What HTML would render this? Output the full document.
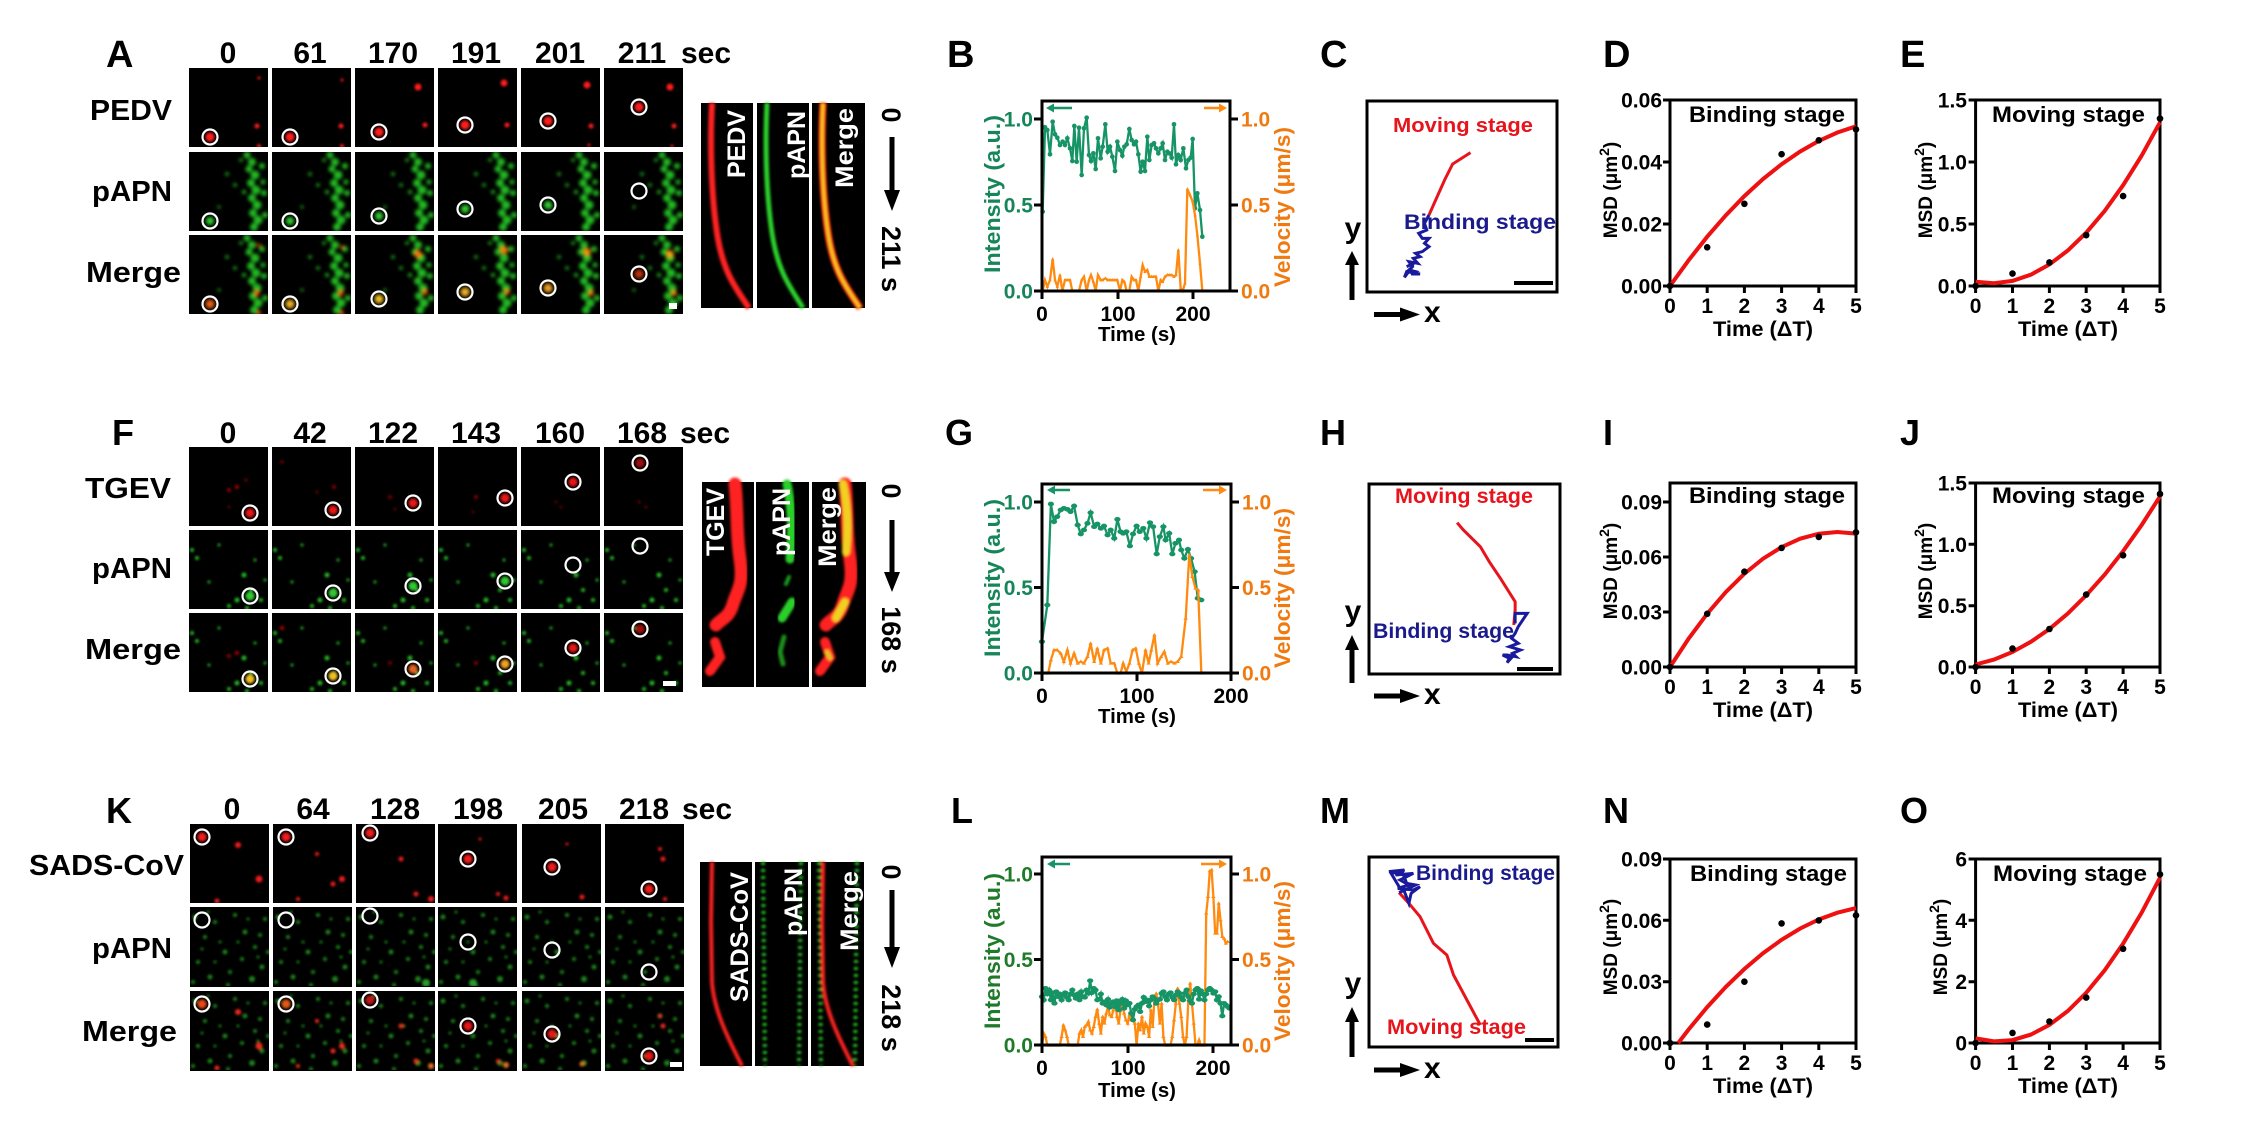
<!DOCTYPE html>
<html><head><meta charset="utf-8"><style>
html,body{margin:0;padding:0;background:#fff}
svg{display:block}
text{font-family:"Liberation Sans",Arial,sans-serif;font-weight:bold}
.rg{fill:none;stroke:#fff;stroke-width:2.2}
.fr{fill:none;stroke:#000;stroke-width:3}
.tk{stroke:#000;stroke-width:3}
.cv{fill:none;stroke:#ee1111;stroke-width:4}
.nl{fill:none;vector-effect:non-scaling-stroke}
</style></head><body>
<svg width="2249" height="1147" viewBox="0 0 2249 1147" xmlns="http://www.w3.org/2000/svg">
<defs>
<clipPath id="tc"><rect width="79" height="79"/></clipPath>
<filter id="bl" x="-20%" y="-20%" width="140%" height="140%"><feGaussianBlur stdDeviation="1.2"/></filter>
<filter id="bl2" x="-20%" y="-20%" width="140%" height="140%"><feGaussianBlur stdDeviation="1.9"/></filter>
<g id="m1" fill="#22b822"><circle cx="58" cy="3" r="3.5"/><circle cx="63" cy="10" r="4"/><circle cx="60" cy="17" r="3.5"/><circle cx="66" cy="23" r="4.5"/><circle cx="62" cy="31" r="4"/><circle cx="67" cy="38" r="4.5"/><circle cx="63" cy="46" r="4"/><circle cx="68" cy="53" r="4.5"/><circle cx="64" cy="61" r="4"/><circle cx="69" cy="68" r="4.5"/><circle cx="65" cy="75" r="4"/><circle cx="73" cy="14" r="3"/><circle cx="74" cy="30" r="2.5"/><circle cx="75" cy="41" r="3"/><circle cx="76" cy="63" r="3"/><circle cx="55" cy="40" r="2"/><circle cx="52" cy="8" r="1.8"/><circle cx="38" cy="22" r="1.8"/><circle cx="46" cy="33" r="1.8"/><circle cx="30" cy="55" r="1.5"/></g>
<g id="g2" fill="#26b526"><circle cx="3" cy="20" r="2"/><circle cx="8" cy="28" r="2"/><circle cx="30" cy="15" r="1.5"/><circle cx="55" cy="45" r="2.5"/><circle cx="62" cy="60" r="2"/><circle cx="48" cy="70" r="2.5"/><circle cx="40" cy="76" r="2"/><circle cx="72" cy="70" r="2"/><circle cx="20" cy="52" r="1.5"/><circle cx="66" cy="30" r="1.5"/><circle cx="76" cy="50" r="1.5"/><circle cx="58" cy="78" r="2"/></g>
<g id="g3" fill="#1f801f"><circle cx="5" cy="10" r="2.5"/><circle cx="15" cy="30" r="2"/><circle cx="25" cy="15" r="2"/><circle cx="35" cy="45" r="2.5"/><circle cx="45" cy="8" r="2"/><circle cx="55" cy="25" r="2.5"/><circle cx="65" cy="40" r="2"/><circle cx="75" cy="12" r="2"/><circle cx="8" cy="55" r="2"/><circle cx="20" cy="70" r="2.5"/><circle cx="40" cy="65" r="2"/><circle cx="52" cy="52" r="2"/><circle cx="62" cy="72" r="3"/><circle cx="72" cy="60" r="2.5"/><circle cx="30" cy="35" r="1.5"/><circle cx="12" cy="42" r="1.5"/><circle cx="48" cy="35" r="1.5"/><circle cx="70" cy="28" r="2"/><circle cx="58" cy="12" r="1.5"/><circle cx="25" cy="55" r="1.5"/><circle cx="38" cy="78" r="2"/><circle cx="78" cy="45" r="2"/><circle cx="3" cy="75" r="2"/><circle cx="18" cy="5" r="1.5"/><circle cx="68" cy="50" r="1.5"/></g>
<marker id="mg" markerUnits="userSpaceOnUse" markerWidth="20" markerHeight="20" refX="10" refY="10" viewBox="0 0 20 20"><circle cx="10" cy="10" r="7" fill="#179466"/></marker>
<marker id="mo" markerUnits="userSpaceOnUse" markerWidth="20" markerHeight="20" refX="10" refY="10" viewBox="0 0 20 20"><polygon points="10,4 15,14 5,14" fill="#ff8a10"/></marker>
</defs>
<rect width="2249" height="1147" fill="#fff"/>

<!-- ================= ROW 1 ================= -->
<text x="106" y="67" font-size="38">A</text>
<text x="947" y="67" font-size="38">B</text>
<text x="1320" y="67" font-size="38">C</text>
<text x="1603" y="67" font-size="38">D</text>
<text x="1900" y="67" font-size="38">E</text>

<g font-size="30" text-anchor="middle">
<text x="228" y="63">0</text><text x="310" y="63">61</text><text x="393" y="63">170</text><text x="476" y="63">191</text><text x="560" y="63">201</text><text x="642" y="63">211</text><text x="706" y="63">sec</text>
</g>
<g font-size="29">
<text x="90" y="120" textLength="82" lengthAdjust="spacingAndGlyphs">PEDV</text>
<text x="92" y="201" textLength="80" lengthAdjust="spacingAndGlyphs">pAPN</text>
<text x="86" y="282" textLength="95" lengthAdjust="spacingAndGlyphs">Merge</text>
</g>

<!-- PEDV tiles -->
<g transform="translate(189,68)"><rect width="79" height="79"/><g clip-path="url(#tc)"><g filter="url(#bl)" fill="#ff1e1e"><circle cx="21" cy="69" r="4.5"/><circle cx="70" cy="10" r="1.5"/><circle cx="68" cy="58" r="2.5"/><circle cx="70" cy="78" r="2"/></g></g><circle class="rg" cx="21" cy="69" r="7.5"/></g>
<g transform="translate(272,68)"><rect width="79" height="79"/><g clip-path="url(#tc)"><g filter="url(#bl)" fill="#ff1e1e"><circle cx="18" cy="69" r="4.5"/><circle cx="70" cy="12" r="1.5"/><circle cx="69" cy="58" r="2.5"/><circle cx="70" cy="78" r="2"/></g></g><circle class="rg" cx="18" cy="69" r="7.5"/></g>
<g transform="translate(355,68)"><rect width="79" height="79"/><g clip-path="url(#tc)"><g filter="url(#bl)" fill="#ff1e1e"><circle cx="24" cy="64" r="4.5"/><circle cx="63" cy="19" r="3.5"/><circle cx="70" cy="57" r="2.5"/></g></g><circle class="rg" cx="24" cy="64" r="7.5"/></g>
<g transform="translate(438,68)"><rect width="79" height="79"/><g clip-path="url(#tc)"><g filter="url(#bl)" fill="#ff1e1e"><circle cx="27" cy="57" r="4.5"/><circle cx="66" cy="15" r="3.5"/><circle cx="69" cy="57" r="2.5"/></g></g><circle class="rg" cx="27" cy="57" r="7.5"/></g>
<g transform="translate(521,68)"><rect width="79" height="79"/><g clip-path="url(#tc)"><g filter="url(#bl)" fill="#ff1e1e"><circle cx="27" cy="53" r="4.5"/><circle cx="66" cy="17" r="3.5"/><circle cx="70" cy="58" r="2.5"/><circle cx="68" cy="77" r="1.5"/></g></g><circle class="rg" cx="27" cy="53" r="7.5"/></g>
<g transform="translate(604,68)"><rect width="79" height="79"/><g clip-path="url(#tc)"><g filter="url(#bl)" fill="#ff1e1e"><circle cx="35" cy="39" r="4.5"/><circle cx="66" cy="19" r="3.5"/><circle cx="70" cy="58" r="2.5"/><circle cx="68" cy="78" r="1.5"/></g></g><circle class="rg" cx="35" cy="39" r="7.5"/></g>
<!-- pAPN tiles row1 -->
<g transform="translate(189,152)"><rect width="79" height="79"/><g clip-path="url(#tc)"><g filter="url(#bl2)"><use href="#m1"/><circle cx="21" cy="69" r="4" fill="#30d030"/></g></g><circle class="rg" cx="21" cy="69" r="7.5"/></g>
<g transform="translate(272,152)"><rect width="79" height="79"/><g clip-path="url(#tc)"><g filter="url(#bl2)"><use href="#m1"/><circle cx="18" cy="69" r="4" fill="#30d030"/></g></g><circle class="rg" cx="18" cy="69" r="7.5"/></g>
<g transform="translate(355,152)"><rect width="79" height="79"/><g clip-path="url(#tc)"><g filter="url(#bl2)"><use href="#m1"/><circle cx="24" cy="64" r="4" fill="#30d030"/></g></g><circle class="rg" cx="24" cy="64" r="7.5"/></g>
<g transform="translate(438,152)"><rect width="79" height="79"/><g clip-path="url(#tc)"><g filter="url(#bl2)"><use href="#m1"/><circle cx="27" cy="57" r="4" fill="#30d030"/></g></g><circle class="rg" cx="27" cy="57" r="7.5"/></g>
<g transform="translate(521,152)"><rect width="79" height="79"/><g clip-path="url(#tc)"><g filter="url(#bl2)"><use href="#m1"/><circle cx="27" cy="53" r="4" fill="#30d030"/></g></g><circle class="rg" cx="27" cy="53" r="7.5"/></g>
<g transform="translate(604,152)"><rect width="79" height="79"/><g clip-path="url(#tc)"><g filter="url(#bl2)"><use href="#m1"/></g></g><circle class="rg" cx="35" cy="39" r="7.5"/></g>
<!-- Merge tiles row1 -->
<g transform="translate(189,235)"><rect width="79" height="79"/><g clip-path="url(#tc)"><g filter="url(#bl2)"><use href="#m1"/><g fill="#ff5010"><circle cx="70" cy="10" r="1.5"/><circle cx="68" cy="58" r="2.5"/><circle cx="70" cy="78" r="2"/></g><circle cx="21" cy="69" r="4.5" fill="#e86018"/></g></g><circle class="rg" cx="21" cy="69" r="7.5"/></g>
<g transform="translate(272,235)"><rect width="79" height="79"/><g clip-path="url(#tc)"><g filter="url(#bl2)"><use href="#m1"/><g fill="#ff5010"><circle cx="70" cy="12" r="1.5"/><circle cx="69" cy="58" r="2.5"/><circle cx="70" cy="78" r="2"/></g><circle cx="18" cy="69" r="4.5" fill="#f0b020"/></g></g><circle class="rg" cx="18" cy="69" r="7.5"/></g>
<g transform="translate(355,235)"><rect width="79" height="79"/><g clip-path="url(#tc)"><g filter="url(#bl2)"><use href="#m1"/><g fill="#ff7010"><circle cx="63" cy="19" r="3.5"/><circle cx="70" cy="57" r="2.5"/></g><circle cx="24" cy="64" r="4.5" fill="#f0c020"/></g></g><circle class="rg" cx="24" cy="64" r="7.5"/></g>
<g transform="translate(438,235)"><rect width="79" height="79"/><g clip-path="url(#tc)"><g filter="url(#bl2)"><use href="#m1"/><g fill="#ff8010"><circle cx="66" cy="15" r="3.5"/><circle cx="69" cy="57" r="2.5"/></g><circle cx="27" cy="57" r="4.5" fill="#f0b020"/></g></g><circle class="rg" cx="27" cy="57" r="7.5"/></g>
<g transform="translate(521,235)"><rect width="79" height="79"/><g clip-path="url(#tc)"><g filter="url(#bl2)"><use href="#m1"/><g fill="#ff9010"><circle cx="66" cy="17" r="3.5"/><circle cx="70" cy="58" r="2.5"/></g><circle cx="27" cy="53" r="4.5" fill="#f0a020"/></g></g><circle class="rg" cx="27" cy="53" r="7.5"/></g>
<g transform="translate(604,235)"><rect width="79" height="79"/><g clip-path="url(#tc)"><g filter="url(#bl2)"><use href="#m1"/><g fill="#ffa010"><circle cx="66" cy="19" r="3.5"/><circle cx="70" cy="58" r="2.5"/></g><circle cx="35" cy="39" r="4.5" fill="#c03010"/></g></g><circle class="rg" cx="35" cy="39" r="7.5"/><rect x="65" y="68" width="8" height="6" fill="#fff"/></g>

<!-- kymographs row1 -->
<g transform="translate(701,103)"><rect width="52" height="205"/><path d="M11,0C9,40 10,90 16,130S35,185 48,205" fill="none" stroke="#ff2020" stroke-width="6" filter="url(#bl)"/></g>
<g transform="translate(757,103)"><rect width="52" height="205"/><path d="M10,0C8,40 9,90 15,130S34,185 46,205" fill="none" stroke="#2cd02c" stroke-width="5" filter="url(#bl)"/></g>
<g transform="translate(812,103)"><rect width="53" height="205"/><path d="M11,0C9,40 10,90 16,130S35,185 48,205" fill="none" stroke="#ff3010" stroke-width="7" filter="url(#bl)"/><path d="M11,0C9,40 10,90 16,130S35,185 48,205" fill="none" stroke="#f2c820" stroke-width="4" filter="url(#bl)"/></g>
<g font-size="25" fill="#fff" text-anchor="middle">
<text transform="translate(745,144) rotate(-90)">PEDV</text>
<text transform="translate(805,145) rotate(-90)">pAPN</text>
<text transform="translate(853,148) rotate(-90)" textLength="80" lengthAdjust="spacingAndGlyphs">Merge</text>
</g>
<g font-size="27" text-anchor="middle">
<text transform="translate(882,115) rotate(90)">0</text>
<text transform="translate(882,259) rotate(90)">211 s</text>
</g>
<rect x="889.5" y="137" width="5" height="56"/><polygon points="884,190 900,190 892,211"/>

<!-- B plot -->
<path class="nl" d="M38,350L45,97L52,105L60,178L68,80L75,118L82,128L90,150L98,140L105,150L112,130L120,160L127,198L133,93L140,200L147,98L155,240L162,100L170,68L177,180L183,198L190,175L197,222L204,130L212,190L218,155L226,88L233,170L240,155L247,185L255,228L262,140L270,165L277,182L283,155L290,148L298,102L305,135L312,148L318,140L325,178L332,230L338,200L345,228L352,125L358,195L365,150L372,145L378,160L385,175L392,160L398,145L405,195L412,170L418,175L425,188L432,88L438,208L445,180L452,195L460,160L468,220L475,195L482,188L488,132L495,340L502,295L510,345L517,425" transform="translate(1030,95) scale(0.33333)" stroke="#179466" stroke-width="2.3" marker-start="url(#mg)" marker-mid="url(#mg)" marker-end="url(#mg)"/>
<path class="nl" d="M38,588L45,555L52,575L60,555L68,492L75,555L82,575L90,540L97,588L105,555L112,555L120,555L127,588L133,588L140,588L147,588L155,555L162,545L170,588L177,555L183,540L190,560L197,588L204,540L212,555L218,555L226,550L233,555L240,555L247,555L255,555L262,555L270,588L277,555L283,560L290,588L298,588L305,545L312,555L318,555L325,588L332,545L338,510L345,530L352,525L358,545L365,545L372,545L378,545L385,588L392,555L398,560L405,545L412,540L418,540L425,540L432,545L438,540L445,465L452,580L458,588L465,565L472,282L480,300L488,320L495,360L502,420L510,505L517,588" transform="translate(1030,95) scale(0.33333)" stroke="#ff8a10" stroke-width="2.3" marker-start="url(#mo)" marker-mid="url(#mo)" marker-end="url(#mo)"/>
<rect class="fr" x="1042" y="101" width="188" height="190"/>
<path class="tk" d="M1034,291H1042M1034,205H1042M1034,119H1042M1230,291H1238M1230,205H1238M1230,119H1238M1042,291V299M1118,291V299M1193,291V299"/>
<g font-size="21" fill="#16855a" text-anchor="end"><text x="1033" y="298.5">0.0</text><text x="1033" y="212.5">0.5</text><text x="1033" y="126.5">1.0</text></g>
<g font-size="21" fill="#f07a10"><text x="1241" y="298.5">0.0</text><text x="1241" y="212.5">0.5</text><text x="1241" y="126.5">1.0</text></g>
<g font-size="21" text-anchor="middle"><text x="1042" y="321">0</text><text x="1118" y="321">100</text><text x="1193" y="321">200</text></g>
<text x="1137" y="341" font-size="20" text-anchor="middle" textLength="78" lengthAdjust="spacingAndGlyphs">Time (s)</text>
<text transform="translate(1000,194) rotate(-90)" font-size="22" fill="#16855a" text-anchor="middle" textLength="158" lengthAdjust="spacingAndGlyphs">Intensity (a.u.)</text>
<text transform="translate(1290,207) rotate(-90)" font-size="22" fill="#f07a10" text-anchor="middle" textLength="160" lengthAdjust="spacingAndGlyphs">Velocity (μm/s)</text>
<path d="M1051,108H1072" stroke="#179466" stroke-width="2.5"/><polygon points="1046,108 1054,103.5 1054,112.5" fill="#179466"/>
<path d="M1204,108H1221" stroke="#ff8a10" stroke-width="2.5"/><polygon points="1227,108 1219,103.5 1219,112.5" fill="#ff8a10"/>

<!-- C plot -->
<rect class="fr" x="1367" y="101" width="190" height="191"/>
<text x="1463" y="132" font-size="20" fill="#e8141c" text-anchor="middle" textLength="140" lengthAdjust="spacingAndGlyphs">Moving stage</text>
<text x="1404" y="229" font-size="21" fill="#1a1a8c" textLength="152" lengthAdjust="spacingAndGlyphs">Binding stage</text>
<path class="nl" d="M1278,458L1238,492L1220,540L1200,600L1185,645" transform="translate(900,0) scale(0.4464,0.33333)" stroke="#e8141c" stroke-width="3"/>
<path class="nl" d="M1185,645L1175,670L1180,690L1162,700L1170,715L1185,715L1175,730L1185,740L1170,755L1155,760L1165,770L1150,775L1160,790L1140,785L1148,800L1140,810L1155,815L1145,822L1165,822L1135,815L1130,832L1145,805L1150,790L1135,800" transform="translate(900,0) scale(0.4464,0.33333)" stroke="#1a1a9c" stroke-width="3"/>
<path d="M1514,283H1553" stroke="#000" stroke-width="4"/>
<rect x="1349.5" y="262" width="5" height="38"/><polygon points="1345,265 1359,265 1352,251"/>
<rect x="1374" y="312" width="28" height="5"/><polygon points="1400,307.5 1400,321.5 1420,314.5"/>
<text x="1353" y="238" font-size="30" text-anchor="middle">y</text>
<text x="1424" y="322" font-size="30">x</text>

<!-- D plot -->
<rect class="fr" x="1670" y="100" width="186" height="186"/>
<path class="tk" d="M1663,100H1670M1663,162H1670M1663,224H1670M1663,286H1670M1670,286V293M1707.2,286V293M1744.4,286V293M1781.6,286V293M1818.8,286V293M1856,286V293"/>
<g font-size="21" text-anchor="end"><text x="1662" y="107.5">0.06</text><text x="1662" y="169.5">0.04</text><text x="1662" y="231.5">0.02</text><text x="1662" y="293.5">0.00</text></g>
<g font-size="21" text-anchor="middle"><text x="1670" y="313">0</text><text x="1707.2" y="313">1</text><text x="1744.4" y="313">2</text><text x="1781.6" y="313">3</text><text x="1818.8" y="313">4</text><text x="1856" y="313">5</text></g>
<text x="1763" y="336" font-size="21" text-anchor="middle" textLength="100" lengthAdjust="spacingAndGlyphs">Time (ΔT)</text>
<text transform="translate(1617,190) rotate(-90)" font-size="19" text-anchor="middle">MSD (μm<tspan font-size="14" dy="-8">2</tspan><tspan dy="8">)</tspan></text>
<text x="1689" y="122" font-size="22" textLength="156" lengthAdjust="spacingAndGlyphs">Binding stage</text>
<path class="cv" d="M1670,286L1688.6,260.3L1707.2,236.7L1725.8,215.3L1744.4,196.1L1763,179L1781.6,164.2L1800.2,151.5L1818.8,140.9L1837.4,132.5L1856,126.3"/>
<g><circle cx="1670" cy="286" r="3.3"/><circle cx="1707.2" cy="247.3" r="3.3"/><circle cx="1744.4" cy="203.8" r="3.3"/><circle cx="1781.6" cy="154.2" r="3.3"/><circle cx="1818.8" cy="140.3" r="3.3"/><circle cx="1856" cy="129.4" r="3.3"/></g>

<!-- E plot -->
<rect class="fr" x="1975.6" y="100" width="184.4" height="186"/>
<path class="tk" d="M1968.6,100H1975.6M1968.6,162H1975.6M1968.6,224H1975.6M1968.6,286H1975.6M1975.6,286V293M2012.5,286V293M2049.4,286V293M2086.2,286V293M2123.1,286V293M2160,286V293"/>
<g font-size="21" text-anchor="end"><text x="1967" y="107.5">1.5</text><text x="1967" y="169.5">1.0</text><text x="1967" y="231.5">0.5</text><text x="1967" y="293.5">0.0</text></g>
<g font-size="21" text-anchor="middle"><text x="1975.6" y="313">0</text><text x="2012.5" y="313">1</text><text x="2049.4" y="313">2</text><text x="2086.2" y="313">3</text><text x="2123.1" y="313">4</text><text x="2160" y="313">5</text></g>
<text x="2068" y="336" font-size="21" text-anchor="middle" textLength="100" lengthAdjust="spacingAndGlyphs">Time (ΔT)</text>
<text transform="translate(1932,190) rotate(-90)" font-size="19" text-anchor="middle">MSD (μm<tspan font-size="14" dy="-8">2</tspan><tspan dy="8">)</tspan></text>
<text x="1992" y="122" font-size="22" textLength="153" lengthAdjust="spacingAndGlyphs">Moving stage</text>
<path class="cv" d="M1975.6,281.7L1994,283.2L2012.5,280.9L2030.9,274.7L2049.4,264.5L2067.8,250.5L2086.2,232.7L2104.7,210.9L2123.1,185.2L2141.6,155.7L2160,122.3"/>
<g><circle cx="1975.6" cy="286" r="3.3"/><circle cx="2012.5" cy="273.6" r="3.3"/><circle cx="2049.4" cy="262.4" r="3.3"/><circle cx="2086.2" cy="235.2" r="3.3"/><circle cx="2123.1" cy="196.1" r="3.3"/><circle cx="2160" cy="118.6" r="3.3"/></g>

<!-- ================= ROW 2 ================= -->
<text x="112" y="445" font-size="36">F</text>
<text x="945" y="445" font-size="36">G</text>
<text x="1320" y="445" font-size="36">H</text>
<text x="1603" y="445" font-size="36">I</text>
<text x="1900" y="445" font-size="36">J</text>
<g font-size="30" text-anchor="middle">
<text x="228" y="443">0</text><text x="310" y="443">42</text><text x="393" y="443">122</text><text x="476" y="443">143</text><text x="560" y="443">160</text><text x="642" y="443">168</text><text x="705" y="443">sec</text>
</g>
<g font-size="29">
<text x="85" y="498" textLength="86" lengthAdjust="spacingAndGlyphs">TGEV</text>
<text x="92" y="578" textLength="80" lengthAdjust="spacingAndGlyphs">pAPN</text>
<text x="85" y="659" textLength="96" lengthAdjust="spacingAndGlyphs">Merge</text>
</g>
<!-- TGEV tiles -->
<g transform="translate(189,447)"><rect width="79" height="79"/><g clip-path="url(#tc)"><g filter="url(#bl)"><circle cx="40" cy="43" r="2" fill="#900"/><circle cx="48" cy="40" r="2" fill="#a00"/><circle cx="57" cy="33" r="1.5" fill="#800"/><circle cx="40" cy="60" r="1.5" fill="#600"/><circle cx="61" cy="66" r="4.5" fill="#e81818"/></g></g><circle class="rg" cx="61" cy="66" r="7.5"/></g>
<g transform="translate(272,447)"><rect width="79" height="79"/><g clip-path="url(#tc)"><g filter="url(#bl)"><circle cx="10" cy="15" r="1.5" fill="#900"/><circle cx="62" cy="40" r="2" fill="#800"/><circle cx="45" cy="45" r="1.5" fill="#700"/><circle cx="61" cy="63" r="4.5" fill="#e81818"/></g></g><circle class="rg" cx="61" cy="63" r="7.5"/></g>
<g transform="translate(355,447)"><rect width="79" height="79"/><g clip-path="url(#tc)"><g filter="url(#bl)"><circle cx="35" cy="50" r="2" fill="#700"/><circle cx="40" cy="62" r="1.5" fill="#600"/><circle cx="58" cy="56" r="4.5" fill="#e81818"/></g></g><circle class="rg" cx="58" cy="56" r="7.5"/></g>
<g transform="translate(438,447)"><rect width="79" height="79"/><g clip-path="url(#tc)"><g filter="url(#bl)"><circle cx="38" cy="50" r="2" fill="#800"/><circle cx="35" cy="65" r="1.5" fill="#600"/><circle cx="67" cy="51" r="4.5" fill="#e81818"/></g></g><circle class="rg" cx="67" cy="51" r="7.5"/></g>
<g transform="translate(521,447)"><rect width="79" height="79"/><g clip-path="url(#tc)"><g filter="url(#bl)"><circle cx="35" cy="55" r="1.5" fill="#600"/><circle cx="40" cy="60" r="1.5" fill="#600"/><circle cx="52" cy="35" r="4.5" fill="#e81818"/></g></g><circle class="rg" cx="52" cy="35" r="7.5"/></g>
<g transform="translate(604,447)"><rect width="79" height="79"/><g clip-path="url(#tc)"><g filter="url(#bl)"><circle cx="35" cy="55" r="1.5" fill="#700"/><circle cx="42" cy="60" r="1.5" fill="#700"/><circle cx="36" cy="16" r="4.5" fill="#a01010"/></g></g><circle class="rg" cx="36" cy="16" r="7.5"/></g>
<!-- pAPN row2 -->
<g transform="translate(189,530)"><rect width="79" height="79"/><g clip-path="url(#tc)"><g filter="url(#bl)"><use href="#g2"/><circle cx="61" cy="66" r="4.5" fill="#30c830"/></g></g><circle class="rg" cx="61" cy="66" r="7.5"/></g>
<g transform="translate(272,530)"><rect width="79" height="79"/><g clip-path="url(#tc)"><g filter="url(#bl)"><use href="#g2"/><circle cx="61" cy="63" r="4.5" fill="#30c830"/></g></g><circle class="rg" cx="61" cy="63" r="7.5"/></g>
<g transform="translate(355,530)"><rect width="79" height="79"/><g clip-path="url(#tc)"><g filter="url(#bl)"><use href="#g2"/><circle cx="58" cy="56" r="4.5" fill="#30c830"/></g></g><circle class="rg" cx="58" cy="56" r="7.5"/></g>
<g transform="translate(438,530)"><rect width="79" height="79"/><g clip-path="url(#tc)"><g filter="url(#bl)"><use href="#g2"/><circle cx="67" cy="51" r="4.5" fill="#30c830"/></g></g><circle class="rg" cx="67" cy="51" r="7.5"/></g>
<g transform="translate(521,530)"><rect width="79" height="79"/><g clip-path="url(#tc)"><g filter="url(#bl)"><use href="#g2"/></g></g><circle class="rg" cx="52" cy="35" r="7.5"/></g>
<g transform="translate(604,530)"><rect width="79" height="79"/><g clip-path="url(#tc)"><g filter="url(#bl)"><use href="#g2"/></g></g><circle class="rg" cx="36" cy="16" r="7.5"/></g>
<!-- Merge row2 -->
<g transform="translate(189,613)"><rect width="79" height="79"/><g clip-path="url(#tc)"><g filter="url(#bl)"><use href="#g2"/><circle cx="40" cy="43" r="2" fill="#900"/><circle cx="48" cy="40" r="2" fill="#a00"/><circle cx="61" cy="66" r="4.5" fill="#f0c020"/></g></g><circle class="rg" cx="61" cy="66" r="7.5"/></g>
<g transform="translate(272,613)"><rect width="79" height="79"/><g clip-path="url(#tc)"><g filter="url(#bl)"><use href="#g2"/><circle cx="10" cy="15" r="2" fill="#b00"/><circle cx="61" cy="63" r="4.5" fill="#f0c020"/></g></g><circle class="rg" cx="61" cy="63" r="7.5"/></g>
<g transform="translate(355,613)"><rect width="79" height="79"/><g clip-path="url(#tc)"><g filter="url(#bl)"><use href="#g2"/><circle cx="35" cy="50" r="2" fill="#700"/><circle cx="58" cy="56" r="4.5" fill="#e86020"/></g></g><circle class="rg" cx="58" cy="56" r="7.5"/></g>
<g transform="translate(438,613)"><rect width="79" height="79"/><g clip-path="url(#tc)"><g filter="url(#bl)"><use href="#g2"/><circle cx="38" cy="50" r="2" fill="#800"/><circle cx="67" cy="51" r="4.5" fill="#f0a020"/></g></g><circle class="rg" cx="67" cy="51" r="7.5"/></g>
<g transform="translate(521,613)"><rect width="79" height="79"/><g clip-path="url(#tc)"><g filter="url(#bl)"><use href="#g2"/><circle cx="52" cy="35" r="4.5" fill="#e81818"/></g></g><circle class="rg" cx="52" cy="35" r="7.5"/></g>
<g transform="translate(604,613)"><rect width="79" height="79"/><g clip-path="url(#tc)"><g filter="url(#bl)"><use href="#g2"/><circle cx="36" cy="16" r="4.5" fill="#a01010"/></g></g><circle class="rg" cx="36" cy="16" r="7.5"/><rect x="59" y="68" width="13" height="5" fill="#fff"/></g>
<!-- kymographs row2 -->
<g transform="translate(702,482)"><rect width="52" height="205"/><g filter="url(#bl)" fill="none" stroke="#ff2020" stroke-linecap="round"><path d="M33,2C36,30 34,50 38,77S35,108 31,122S19,137 14,143" stroke-width="13"/><path d="M13,160L18,175L8,189" stroke-width="10"/></g></g>
<g transform="translate(756,482)"><rect width="53" height="205"/><g filter="url(#bl)" fill="none" stroke="#2cd02c" stroke-linecap="round"><path d="M31,2C35,20 37,45 34,77" stroke-width="9"/><path d="M33,95L30,102" stroke-width="4" stroke="#1c9a1c"/><path d="M36,120L26,136" stroke-width="9"/><path d="M28,155L24,170L27,182" stroke-width="5" stroke="#1c901c"/></g></g>
<g transform="translate(812,482)"><rect width="54" height="205"/><g filter="url(#bl)" fill="none" stroke-linecap="round"><path d="M33,2C36,30 34,50 38,77S35,108 31,122S19,137 14,143" stroke-width="13" stroke="#ff2020"/><path d="M13,160L18,175L8,189" stroke-width="10" stroke="#ff2020"/><path d="M31,2C35,20 37,45 34,70" stroke-width="8" stroke="#f2d020"/><path d="M33,120L24,136" stroke-width="8" stroke="#f2d020"/><path d="M15,170L18,176" stroke-width="5" stroke="#e8c020"/></g></g>
<g font-size="25" fill="#fff" text-anchor="middle">
<text transform="translate(724,522) rotate(-90)">TGEV</text>
<text transform="translate(790,522) rotate(-90)">pAPN</text>
<text transform="translate(836,527) rotate(-90)" textLength="80" lengthAdjust="spacingAndGlyphs">Merge</text>
</g>
<g font-size="27" text-anchor="middle">
<text transform="translate(882,491) rotate(90)">0</text>
<text transform="translate(882,640) rotate(90)">168 s</text>
</g>
<rect x="889.5" y="520" width="5" height="55"/><polygon points="884,572 900,572 892,592"/>

<!-- G plot -->
<path class="nl" d="M318,755L330,645L338,342L345,395L352,380L360,360L367,355L375,358L382,365L390,348L398,405L405,432L412,420L420,400L427,368L435,410L442,402L450,415L457,408L465,435L472,420L480,445L487,388L494,425L500,430L507,425L515,468L522,432L530,408L537,425L545,415L552,445L560,398L567,410L575,492L582,440L590,410L595,450L603,430L610,492L617,460L625,450L630,480L637,505L645,478L652,505L660,545L667,625L675,630" transform="translate(900,390) scale(0.4464,0.33333)" stroke="#179466" stroke-width="2.3" marker-start="url(#mg)" marker-mid="url(#mg)" marker-end="url(#mg)"/>
<path class="nl" d="M318,850L325,850L332,850L338,810L345,780L352,780L360,790L367,815L375,780L382,820L390,790L398,820L405,815L412,820L420,800L427,760L435,815L442,775L450,820L457,780L465,775L472,820L480,820L487,850L494,850L500,820L507,845L514,820L521,780L528,775L535,820L542,850L550,780L557,820L563,780L570,735L577,820L585,800L592,785L600,820L607,815L615,820L622,815L630,800L640,685L648,495L655,560L662,595L668,600L675,850" transform="translate(900,390) scale(0.4464,0.33333)" stroke="#ff8a10" stroke-width="2.3" marker-start="url(#mo)" marker-mid="url(#mo)" marker-end="url(#mo)"/>
<rect class="fr" x="1042" y="484" width="189" height="189"/>
<path class="tk" d="M1034,673H1042M1034,587.5H1042M1034,502H1042M1231,673H1239M1231,587.5H1239M1231,502H1239M1042,673V681M1137,673V681M1231,673V681"/>
<g font-size="21" fill="#16855a" text-anchor="end"><text x="1033" y="680.5">0.0</text><text x="1033" y="595">0.5</text><text x="1033" y="509.5">1.0</text></g>
<g font-size="21" fill="#f07a10"><text x="1242" y="680.5">0.0</text><text x="1242" y="595">0.5</text><text x="1242" y="509.5">1.0</text></g>
<g font-size="21" text-anchor="middle"><text x="1042" y="703">0</text><text x="1137" y="703">100</text><text x="1231" y="703">200</text></g>
<text x="1137" y="723" font-size="20" text-anchor="middle" textLength="78" lengthAdjust="spacingAndGlyphs">Time (s)</text>
<text transform="translate(1000,578) rotate(-90)" font-size="22" fill="#16855a" text-anchor="middle" textLength="158" lengthAdjust="spacingAndGlyphs">Intensity (a.u.)</text>
<text transform="translate(1290,588) rotate(-90)" font-size="22" fill="#f07a10" text-anchor="middle" textLength="160" lengthAdjust="spacingAndGlyphs">Velocity (μm/s)</text>
<path d="M1052,490H1070" stroke="#179466" stroke-width="2.5"/><polygon points="1047,490 1055,485.5 1055,494.5" fill="#179466"/>
<path d="M1203,490H1221" stroke="#ff8a10" stroke-width="2.5"/><polygon points="1227,490 1219,485.5 1219,494.5" fill="#ff8a10"/>

<!-- H plot -->
<rect class="fr" x="1369" y="484" width="191" height="190"/>
<text x="1395" y="503" font-size="21" fill="#e8141c" textLength="138" lengthAdjust="spacingAndGlyphs">Moving stage</text>
<text x="1373" y="638" font-size="21" fill="#1a1a8c" textLength="141" lengthAdjust="spacingAndGlyphs">Binding stage</text>
<path class="nl" d="M1248,398L1262,420L1300,470L1320,515L1345,565L1378,635L1378,660L1375,705" transform="translate(900,390) scale(0.4464,0.33333)" stroke="#e8141c" stroke-width="3"/>
<path class="nl" d="M1378,700L1378,670L1405,670L1395,690L1385,710L1378,730L1370,745L1385,760L1365,770L1390,780L1372,790L1380,800L1360,795L1350,795L1365,805L1360,818L1372,800" transform="translate(900,390) scale(0.4464,0.33333)" stroke="#1a1a9c" stroke-width="3"/>
<path d="M1517,669H1553" stroke="#000" stroke-width="4"/>
<rect x="1349.5" y="647" width="5" height="36"/><polygon points="1345,650 1359,650 1352,635"/>
<rect x="1374" y="693.5" width="28" height="5"/><polygon points="1400,689 1400,703 1420,696"/>
<text x="1353" y="621" font-size="30" text-anchor="middle">y</text>
<text x="1424" y="704" font-size="30">x</text>

<!-- I plot -->
<rect class="fr" x="1670" y="483" width="186" height="184"/>
<path class="tk" d="M1663,502H1670M1663,557H1670M1663,612H1670M1663,667H1670M1670,667V674M1707.2,667V674M1744.4,667V674M1781.6,667V674M1818.8,667V674M1856,667V674"/>
<g font-size="21" text-anchor="end"><text x="1662" y="509.5">0.09</text><text x="1662" y="564.5">0.06</text><text x="1662" y="619.5">0.03</text><text x="1662" y="674.5">0.00</text></g>
<g font-size="21" text-anchor="middle"><text x="1670" y="694">0</text><text x="1707.2" y="694">1</text><text x="1744.4" y="694">2</text><text x="1781.6" y="694">3</text><text x="1818.8" y="694">4</text><text x="1856" y="694">5</text></g>
<text x="1763" y="717" font-size="21" text-anchor="middle" textLength="100" lengthAdjust="spacingAndGlyphs">Time (ΔT)</text>
<text transform="translate(1617,571) rotate(-90)" font-size="19" text-anchor="middle">MSD (μm<tspan font-size="14" dy="-8">2</tspan><tspan dy="8">)</tspan></text>
<text x="1689" y="503" font-size="22" textLength="156" lengthAdjust="spacingAndGlyphs">Binding stage</text>
<path class="cv" d="M1670,667L1688.6,638.7L1707.2,613.7L1725.8,592.1L1744.4,573.7L1763,558.7L1781.6,547.1L1800.2,538.7L1818.8,533.7L1837.4,532L1856,533.6"/>
<g><circle cx="1670" cy="667" r="3.3"/><circle cx="1707.2" cy="613.8" r="3.3"/><circle cx="1744.4" cy="571.7" r="3.3"/><circle cx="1781.6" cy="547.9" r="3.3"/><circle cx="1818.8" cy="536.9" r="3.3"/><circle cx="1856" cy="532.3" r="3.3"/></g>

<!-- J plot -->
<rect class="fr" x="1975.6" y="483" width="184.4" height="184"/>
<path class="tk" d="M1968.6,483H1975.6M1968.6,544.3H1975.6M1968.6,605.7H1975.6M1968.6,667H1975.6M1975.6,667V674M2012.5,667V674M2049.4,667V674M2086.2,667V674M2123.1,667V674M2160,667V674"/>
<g font-size="21" text-anchor="end"><text x="1967" y="490.5">1.5</text><text x="1967" y="551.8">1.0</text><text x="1967" y="613.2">0.5</text><text x="1967" y="674.5">0.0</text></g>
<g font-size="21" text-anchor="middle"><text x="1975.6" y="694">0</text><text x="2012.5" y="694">1</text><text x="2049.4" y="694">2</text><text x="2086.2" y="694">3</text><text x="2123.1" y="694">4</text><text x="2160" y="694">5</text></g>
<text x="2068" y="717" font-size="21" text-anchor="middle" textLength="100" lengthAdjust="spacingAndGlyphs">Time (ΔT)</text>
<text transform="translate(1932,571) rotate(-90)" font-size="19" text-anchor="middle">MSD (μm<tspan font-size="14" dy="-8">2</tspan><tspan dy="8">)</tspan></text>
<text x="1992" y="503" font-size="22" textLength="153" lengthAdjust="spacingAndGlyphs">Moving stage</text>
<path class="cv" d="M1975.6,664.5L1994,659.6L2012.5,652L2030.9,641.8L2049.4,629L2067.8,613.5L2086.2,595.3L2104.7,574.6L2123.1,551.2L2141.6,525.1L2160,496.4"/>
<g><circle cx="1975.6" cy="667" r="3.3"/><circle cx="2012.5" cy="648.6" r="3.3"/><circle cx="2049.4" cy="629" r="3.3"/><circle cx="2086.2" cy="594.6" r="3.3"/><circle cx="2123.1" cy="555.3" r="3.3"/><circle cx="2160" cy="494" r="3.3"/></g>

<!-- ================= ROW 3 ================= -->
<text x="106" y="823" font-size="36">K</text>
<text x="951" y="823" font-size="36">L</text>
<text x="1320" y="823" font-size="36">M</text>
<text x="1603" y="823" font-size="36">N</text>
<text x="1900" y="823" font-size="36">O</text>
<g font-size="30" text-anchor="middle">
<text x="232" y="819">0</text><text x="313" y="819">64</text><text x="395" y="819">128</text><text x="478" y="819">198</text><text x="563" y="819">205</text><text x="644" y="819">218</text><text x="707" y="819">sec</text>
</g>
<g font-size="29">
<text x="29" y="875" textLength="155" lengthAdjust="spacingAndGlyphs">SADS-CoV</text>
<text x="92" y="958" textLength="80" lengthAdjust="spacingAndGlyphs">pAPN</text>
<text x="82" y="1041" textLength="95" lengthAdjust="spacingAndGlyphs">Merge</text>
</g>
<!-- SADS tiles -->
<g transform="translate(190,824)"><rect width="79" height="79"/><g clip-path="url(#tc)"><g filter="url(#bl)" fill="#f01c1c"><circle cx="12" cy="13" r="4.5"/><circle cx="48" cy="21" r="3"/><circle cx="69" cy="55" r="3.5"/><circle cx="27" cy="77" r="2.5"/></g></g><circle class="rg" cx="12" cy="13" r="7.5"/></g>
<g transform="translate(273,824)"><rect width="79" height="79"/><g clip-path="url(#tc)"><g filter="url(#bl)" fill="#f01c1c"><circle cx="13" cy="13" r="4.5"/><circle cx="44" cy="30" r="2"/><circle cx="69" cy="55" r="3"/><circle cx="60" cy="60" r="2.5"/><circle cx="25" cy="75" r="2"/></g></g><circle class="rg" cx="13" cy="13" r="7.5"/></g>
<g transform="translate(356,824)"><rect width="79" height="79"/><g clip-path="url(#tc)"><g filter="url(#bl)" fill="#f01c1c"><circle cx="14" cy="9" r="4.5"/><circle cx="45" cy="35" r="2.5"/><circle cx="60" cy="70" r="2.5"/><circle cx="75" cy="75" r="3"/></g></g><circle class="rg" cx="14" cy="9" r="7.5"/></g>
<g transform="translate(438,824)"><rect width="79" height="79"/><g clip-path="url(#tc)"><g filter="url(#bl)" fill="#f01c1c"><circle cx="30" cy="35" r="4.5"/><circle cx="42" cy="15" r="1.5"/><circle cx="60" cy="70" r="2"/><circle cx="68" cy="74" r="2.5"/></g></g><circle class="rg" cx="30" cy="35" r="7.5"/></g>
<g transform="translate(522,824)"><rect width="79" height="79"/><g clip-path="url(#tc)"><g filter="url(#bl)" fill="#f01c1c"><circle cx="30" cy="43" r="4.5"/><circle cx="45" cy="20" r="1.5"/><circle cx="60" cy="73" r="2.5"/></g></g><circle class="rg" cx="30" cy="43" r="7.5"/></g>
<g transform="translate(605,824)"><rect width="79" height="79"/><g clip-path="url(#tc)"><g filter="url(#bl)" fill="#f01c1c"><circle cx="44" cy="65" r="4.5"/><circle cx="55" cy="25" r="2"/><circle cx="58" cy="35" r="2.5"/><circle cx="60" cy="75" r="2"/></g></g><circle class="rg" cx="44" cy="65" r="7.5"/></g>
<!-- pAPN row3 -->
<g transform="translate(190,907)"><rect width="79" height="80"/><g clip-path="url(#tc)"><g filter="url(#bl)"><use href="#g3"/></g></g><circle class="rg" cx="12" cy="13" r="7.5"/></g>
<g transform="translate(273,907)"><rect width="79" height="80"/><g clip-path="url(#tc)"><g filter="url(#bl)"><use href="#g3"/></g></g><circle class="rg" cx="13" cy="13" r="7.5"/></g>
<g transform="translate(356,907)"><rect width="79" height="80"/><g clip-path="url(#tc)"><g filter="url(#bl)"><use href="#g3"/><circle cx="70" cy="76" r="4" fill="#2a9a2a"/></g></g><circle class="rg" cx="14" cy="9" r="7.5"/></g>
<g transform="translate(438,907)"><rect width="79" height="80"/><g clip-path="url(#tc)"><g filter="url(#bl)"><use href="#g3"/><circle cx="35" cy="76" r="4" fill="#2a9a2a"/></g></g><circle class="rg" cx="30" cy="35" r="7.5"/></g>
<g transform="translate(522,907)"><rect width="79" height="80"/><g clip-path="url(#tc)"><g filter="url(#bl)"><use href="#g3"/></g></g><circle class="rg" cx="30" cy="43" r="7.5"/></g>
<g transform="translate(605,907)"><rect width="79" height="80"/><g clip-path="url(#tc)"><g filter="url(#bl)"><use href="#g3"/></g></g><circle class="rg" cx="44" cy="65" r="7.5"/></g>
<!-- Merge row3 -->
<g transform="translate(190,991)"><rect width="79" height="80"/><g clip-path="url(#tc)"><g filter="url(#bl)"><use href="#g3"/><g fill="#f02a1a"><circle cx="48" cy="21" r="3"/><circle cx="69" cy="55" r="3.5"/><circle cx="27" cy="77" r="2.5"/></g><circle cx="12" cy="13" r="4.5" fill="#e84a18"/></g></g><circle class="rg" cx="12" cy="13" r="7.5"/></g>
<g transform="translate(273,991)"><rect width="79" height="80"/><g clip-path="url(#tc)"><g filter="url(#bl)"><use href="#g3"/><g fill="#f02a1a"><circle cx="44" cy="30" r="2"/><circle cx="69" cy="55" r="3"/><circle cx="60" cy="60" r="2.5"/><circle cx="25" cy="75" r="2"/></g><circle cx="13" cy="13" r="4.5" fill="#e05a18"/></g></g><circle class="rg" cx="13" cy="13" r="7.5"/></g>
<g transform="translate(356,991)"><rect width="79" height="80"/><g clip-path="url(#tc)"><g filter="url(#bl)"><use href="#g3"/><g fill="#f02a1a"><circle cx="45" cy="35" r="2.5"/><circle cx="60" cy="70" r="2.5"/><circle cx="75" cy="75" r="3" fill="#e07020"/></g><circle cx="14" cy="9" r="4.5" fill="#c01818"/></g></g><circle class="rg" cx="14" cy="9" r="7.5"/></g>
<g transform="translate(438,991)"><rect width="79" height="80"/><g clip-path="url(#tc)"><g filter="url(#bl)"><use href="#g3"/><g fill="#f02a1a"><circle cx="60" cy="70" r="2"/><circle cx="68" cy="74" r="3" fill="#e07020"/></g><circle cx="30" cy="35" r="4.5" fill="#e81818"/></g></g><circle class="rg" cx="30" cy="35" r="7.5"/></g>
<g transform="translate(522,991)"><rect width="79" height="80"/><g clip-path="url(#tc)"><g filter="url(#bl)"><use href="#g3"/><g fill="#f02a1a"><circle cx="60" cy="73" r="2.5" fill="#e07020"/></g><circle cx="30" cy="43" r="4.5" fill="#e81818"/></g></g><circle class="rg" cx="30" cy="43" r="7.5"/></g>
<g transform="translate(605,991)"><rect width="79" height="80"/><g clip-path="url(#tc)"><g filter="url(#bl)"><use href="#g3"/><g fill="#f02a1a"><circle cx="55" cy="25" r="2"/><circle cx="58" cy="35" r="2.5"/></g><circle cx="44" cy="65" r="4.5" fill="#e81818"/></g></g><circle class="rg" cx="44" cy="65" r="7.5"/><rect x="65" y="71" width="12" height="5" fill="#fff"/></g>
<!-- kymographs row3 -->
<g transform="translate(700,862)"><rect width="52" height="204"/><path d="M12,0L11,60L12,120C14,150 30,180 42,204" fill="none" stroke="#ff2020" stroke-width="4" filter="url(#bl)"/></g>
<g transform="translate(755,862)"><rect width="53" height="204"/><g filter="url(#bl)" fill="none" stroke="#28c028" stroke-width="4" stroke-dasharray="3 4"><path d="M8,0L10,204"/><path d="M46,0L44,204"/></g></g>
<g transform="translate(811,862)"><rect width="53" height="204"/><g filter="url(#bl)" fill="none"><path d="M8,0L10,204" stroke="#28c028" stroke-width="4" stroke-dasharray="3 4"/><path d="M46,0L44,204" stroke="#28c028" stroke-width="4" stroke-dasharray="3 4"/><path d="M12,0L11,60L12,120C14,150 30,180 42,204" stroke="#ff2020" stroke-width="4"/></g></g>
<g font-size="25" fill="#fff" text-anchor="middle">
<text transform="translate(748,937) rotate(-90)" textLength="130" lengthAdjust="spacingAndGlyphs">SADS-CoV</text>
<text transform="translate(802,902) rotate(-90)">pAPN</text>
<text transform="translate(858,911) rotate(-90)" textLength="80" lengthAdjust="spacingAndGlyphs">Merge</text>
</g>
<g font-size="27" text-anchor="middle">
<text transform="translate(882,872) rotate(90)">0</text>
<text transform="translate(882,1018) rotate(90)">218 s</text>
</g>
<rect x="889.5" y="890" width="5" height="60"/><polygon points="884,947 900,947 892,968"/>

<!-- L plot -->
<path class="nl" d="M318,826L322,790L326,800L330,826L334,826L338,826L342,826L346,826L350,826L354,826L358,826L362,800L366,765L370,780L374,800L378,826L382,826L386,826L390,826L394,826L398,826L402,790L406,780L410,800L414,770L418,765L422,755L426,780L430,790L434,770L438,740L442,718L446,760L450,790L454,740L458,760L462,730L466,710L470,735L474,740L478,720L482,690L486,740L490,760L494,720L498,700L502,730L506,750L510,760L514,735L518,750L522,750L526,760L530,826L534,760L538,780L542,740L546,790L550,760L554,770L558,800L562,720L566,770L570,690L574,670L578,700L582,760L586,700L590,800L594,826L598,826L602,826L606,826L610,800L614,750L618,700L622,655L626,700L630,740L634,800L638,826L642,800L646,690L650,640L654,700L658,760L662,826L666,826L670,810L674,826L678,826L682,826L686,430L690,380L694,303L698,300L702,380L706,490L710,490L714,400L718,450L722,500L726,505L730,520L734,515" transform="translate(900,770) scale(0.4464,0.33333)" stroke="#ff8a10" stroke-width="2.3" marker-start="url(#mo)" marker-mid="url(#mo)" marker-end="url(#mo)"/>
<path class="nl" d="M318,680L322,690L326,655L330,672L334,660L338,690L342,668L346,700L350,665L354,680L358,672L362,690L366,675L370,668L374,682L378,690L382,672L386,660L390,675L394,685L398,672L402,690L406,665L410,680L414,682L418,660L422,670L426,632L430,668L434,655L438,660L442,690L446,688L450,672L454,700L458,695L462,705L466,688L470,712L474,700L478,695L482,710L486,692L490,720L494,700L498,688L502,715L506,692L510,705L514,700L518,730L522,750L526,718L530,710L534,705L538,725L542,700L546,682L550,695L554,690L558,708L562,690L566,680L570,686L574,700L578,690L582,688L586,670L590,665L594,680L598,690L602,672L606,668L610,682L614,690L618,675L622,665L626,670L630,682L634,690L638,670L642,660L646,680L650,692L654,700L658,672L662,660L666,655L670,688L674,662L678,672L682,690L686,672L690,660L694,655L698,660L702,670L706,665L710,690L714,680L718,700L722,738L726,700L730,705L734,710L738,715" transform="translate(900,770) scale(0.4464,0.33333)" stroke="#179466" stroke-width="2.3" marker-start="url(#mg)" marker-mid="url(#mg)" marker-end="url(#mg)"/>
<rect class="fr" x="1042" y="857" width="189" height="188"/>
<path class="tk" d="M1034,1045H1042M1034,959.5H1042M1034,874H1042M1231,1045H1239M1231,959.5H1239M1231,874H1239M1042,1045V1053M1128,1045V1053M1213,1045V1053"/>
<g font-size="21" fill="#1f7a2a" text-anchor="end"><text x="1033" y="1052.5">0.0</text><text x="1033" y="967">0.5</text><text x="1033" y="881.5">1.0</text></g>
<g font-size="21" fill="#f07a10"><text x="1242" y="1052.5">0.0</text><text x="1242" y="967">0.5</text><text x="1242" y="881.5">1.0</text></g>
<g font-size="21" text-anchor="middle"><text x="1042" y="1075">0</text><text x="1128" y="1075">100</text><text x="1213" y="1075">200</text></g>
<text x="1137" y="1097" font-size="20" text-anchor="middle" textLength="78" lengthAdjust="spacingAndGlyphs">Time (s)</text>
<text transform="translate(1000,951) rotate(-90)" font-size="22" fill="#1f7a2a" text-anchor="middle" textLength="156" lengthAdjust="spacingAndGlyphs">Intensity (a.u.)</text>
<text transform="translate(1290,961) rotate(-90)" font-size="22" fill="#f07a10" text-anchor="middle" textLength="160" lengthAdjust="spacingAndGlyphs">Velocity (μm/s)</text>
<path d="M1052,864H1070" stroke="#179466" stroke-width="2.5"/><polygon points="1047,864 1055,859.5 1055,868.5" fill="#179466"/>
<path d="M1201,864H1221" stroke="#ff8a10" stroke-width="2.5"/><polygon points="1227,864 1219,859.5 1219,868.5" fill="#ff8a10"/>

<!-- M plot -->
<rect class="fr" x="1369" y="857" width="189" height="190"/>
<path class="nl" d="M1118,368L1140,400L1165,440L1180,480L1195,520L1225,555L1240,615L1270,690L1300,765" transform="translate(900,770) scale(0.4464,0.33333)" stroke="#e8141c" stroke-width="3"/>
<path class="nl" d="M1095,305L1130,300L1110,315L1150,310L1120,330L1140,345L1115,355L1150,360L1165,350L1145,370L1140,400L1130,365L1118,350L1100,310L1125,305L1135,340L1155,345L1118,368" transform="translate(900,770) scale(0.4464,0.33333)" stroke="#1a1a9c" stroke-width="3"/>
<text x="1416" y="880" font-size="21" fill="#1a1a8c" textLength="139" lengthAdjust="spacingAndGlyphs">Binding stage</text>
<text x="1387" y="1034" font-size="21" fill="#e8141c" textLength="139" lengthAdjust="spacingAndGlyphs">Moving stage</text>
<path d="M1525,1040H1554" stroke="#000" stroke-width="4"/>
<rect x="1349.5" y="1020" width="5" height="37"/><polygon points="1345,1022 1359,1022 1352,1007"/>
<rect x="1374" y="1067.5" width="28" height="5"/><polygon points="1400,1063 1400,1077 1420,1070"/>
<text x="1353" y="993" font-size="30" text-anchor="middle">y</text>
<text x="1424" y="1078" font-size="30">x</text>

<!-- N plot -->
<rect class="fr" x="1670" y="859" width="186" height="184"/>
<path class="tk" d="M1663,859H1670M1663,920.3H1670M1663,981.7H1670M1663,1043H1670M1670,1043V1050M1707.2,1043V1050M1744.4,1043V1050M1781.6,1043V1050M1818.8,1043V1050M1856,1043V1050"/>
<g font-size="21" text-anchor="end"><text x="1662" y="866.5">0.09</text><text x="1662" y="927.8">0.06</text><text x="1662" y="989.2">0.03</text><text x="1662" y="1050.5">0.00</text></g>
<g font-size="21" text-anchor="middle"><text x="1670" y="1070">0</text><text x="1707.2" y="1070">1</text><text x="1744.4" y="1070">2</text><text x="1781.6" y="1070">3</text><text x="1818.8" y="1070">4</text><text x="1856" y="1070">5</text></g>
<text x="1763" y="1093" font-size="21" text-anchor="middle" textLength="100" lengthAdjust="spacingAndGlyphs">Time (ΔT)</text>
<text transform="translate(1617,947) rotate(-90)" font-size="19" text-anchor="middle">MSD (μm<tspan font-size="14" dy="-8">2</tspan><tspan dy="8">)</tspan></text>
<text x="1690" y="881" font-size="22" textLength="157" lengthAdjust="spacingAndGlyphs">Binding stage</text>
<path class="cv" d="M1678.2,1043L1688.6,1029.5L1707.2,1007.1L1725.8,986.9L1744.4,969L1763,953.2L1781.6,939.8L1800.2,928.5L1818.8,919.5L1837.4,912.7L1856,908.1"/>
<g><circle cx="1670" cy="1043" r="3.3"/><circle cx="1707.2" cy="1024.6" r="3.3"/><circle cx="1744.4" cy="981.7" r="3.3"/><circle cx="1781.6" cy="923.4" r="3.3"/><circle cx="1818.8" cy="920.4" r="3.3"/><circle cx="1856" cy="915.3" r="3.3"/></g>

<!-- O plot -->
<rect class="fr" x="1975.6" y="859" width="184.4" height="184"/>
<path class="tk" d="M1968.6,859H1975.6M1968.6,920.3H1975.6M1968.6,981.7H1975.6M1968.6,1043H1975.6M1975.6,1043V1050M2012.5,1043V1050M2049.4,1043V1050M2086.2,1043V1050M2123.1,1043V1050M2160,1043V1050"/>
<g font-size="21" text-anchor="end"><text x="1967" y="866.5">6</text><text x="1967" y="927.8">4</text><text x="1967" y="989.2">2</text><text x="1967" y="1050.5">0</text></g>
<g font-size="21" text-anchor="middle"><text x="1975.6" y="1070">0</text><text x="2012.5" y="1070">1</text><text x="2049.4" y="1070">2</text><text x="2086.2" y="1070">3</text><text x="2123.1" y="1070">4</text><text x="2160" y="1070">5</text></g>
<text x="2068" y="1093" font-size="21" text-anchor="middle" textLength="100" lengthAdjust="spacingAndGlyphs">Time (ΔT)</text>
<text transform="translate(1947,947) rotate(-90)" font-size="19" text-anchor="middle">MSD (μm<tspan font-size="14" dy="-8">2</tspan><tspan dy="8">)</tspan></text>
<text x="1993" y="881" font-size="22" textLength="154" lengthAdjust="spacingAndGlyphs">Moving stage</text>
<path class="cv" d="M1975.6,1038.4L1994,1041.4L2012.5,1040.1L2030.9,1034.6L2049.4,1024.9L2067.8,1011L2086.2,992.8L2104.7,970.3L2123.1,943.7L2141.6,912.8L2160,877.7"/>
<g><circle cx="1975.6" cy="1043" r="3.3"/><circle cx="2012.5" cy="1032.9" r="3.3"/><circle cx="2049.4" cy="1021.5" r="3.3"/><circle cx="2086.2" cy="997.6" r="3.3"/><circle cx="2123.1" cy="948.8" r="3.3"/><circle cx="2160" cy="874.3" r="3.3"/></g>
</svg>
</body></html>
